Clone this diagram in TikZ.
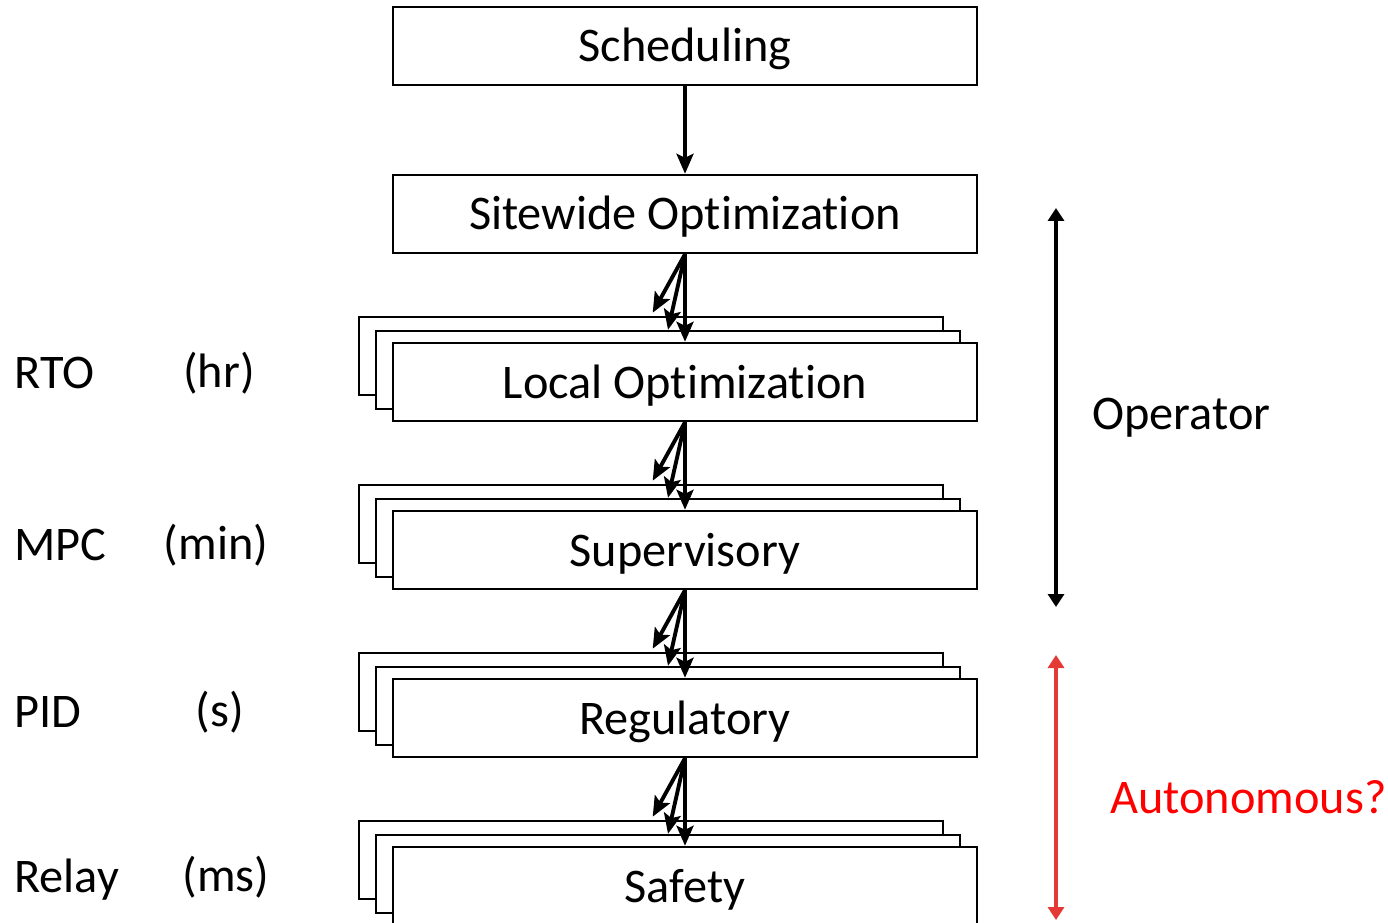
\documentclass[tikz,border=0pt]{standalone}
\usepackage{fontspec}
\setmainfont{Carlito}[Ligatures=NoCommon]
\usetikzlibrary{arrows.meta}
\definecolor{autored}{RGB}{255,0,0}
\definecolor{barred}{RGB}{229,57,53}

\begin{document}
\begin{tikzpicture}[x=0.02cm, y=-0.02cm,
    box/.style={draw, line width=1.4pt, fill=white, minimum width=11.68cm, minimum height=1.56cm, inner sep=0pt, text height=0.8cm, text depth=0.16cm, font=\fontsize{27.5}{33}\selectfont},
    lbl/.style={font=\fontsize{27.5}{33}\selectfont, inner sep=0pt},
    arrow/.style={-{Stealth[length=0.4cm, width=0.34cm, inset=0.08cm]}, line width=2.2pt},
    span/.style={{Triangle[length=0.26cm, width=0.32cm]}-{Triangle[length=0.26cm, width=0.32cm]}, line width=2.2pt}
]
    \useasboundingbox (0,0) rectangle (1388,922);
    \clip (0,0) rectangle (1388,922);

    \node[box] (sched) at (685,46) {Scheduling};
    \node[box] (site) at (685,214) {Sitewide Optimization};
    \draw[arrow] (sched.south) -- (site.north);

    % stacked layers, back to front
    \foreach \name/\txt/\y in {local/Local Optimization/382, sup/Supervisory/550, reg/Regulatory/718, safe/Safety/886} {
        \node[box] (\name C) at (651,\y-26) {};
        \node[box] (\name B) at (668,\y-12) {};
        \node[box] (\name) at (685,\y) {\txt};
    }

    \foreach \a/\b in {site/local, local/sup, sup/reg, reg/safe} {
        \draw[arrow, shorten >=2pt] (\a.south) -- (\b C.north);
        \draw[arrow] (\a.south) -- (\b B.north);
        \draw[arrow] (\a.south) -- (\b.north);
    }

    % left labels
    \node[lbl, anchor=west] (rto) at (14,373) {RTO};
    \node[lbl] (rtoT) at (219,373) {(hr)};
    \node[lbl, anchor=west] (mpc) at (14,545) {MPC};
    \node[lbl] (mpcT) at (216,545) {(min)};
    \node[lbl, anchor=west] (pid) at (14,712) {PID};
    \node[lbl] (pidT) at (220,712) {(s)};
    \node[lbl, anchor=west] (relay) at (14,880) {Relay};
    \node[lbl] (relayT) at (226,877) {(ms)};

    % right side spans
    \coordinate (opTop) at (1056,208);
    \coordinate (opBot) at (1056,607);
    \coordinate (auTop) at (1056,655);
    \coordinate (auBot) at (1056,920);
    \draw[span] (opTop) -- (opBot);
    \draw[span, barred] (auTop) -- (auBot);
    \node[lbl, anchor=west] (operator) at (1092,418) {Operator};
    \node[lbl, anchor=west, text=autored] (auto) at (1110,797) {Autonomous?};
\end{tikzpicture}
\end{document}
